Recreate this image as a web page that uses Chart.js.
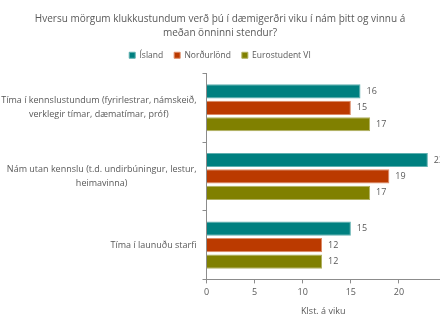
<!DOCTYPE html>
<html>
<head>
<meta charset="utf-8">
<script src="https://cdn.jsdelivr.net/npm/chart.js@4.4.1/dist/chart.umd.min.js"></script>
<style>
  html, body { margin: 0; padding: 0; background: #fff; }
  #wrap { width: 440px; height: 330px; }
</style>
</head>
<body>
<div id="wrap"><canvas id="chart"></canvas></div>
<script>
// Data
const categories = [
    ['Tíma í kennslustundum (fyrirlestrar, námskeið,', 'verklegir tímar, dæmatímar, próf)'],
    ['Nám utan kennslu (t.d. undirbúningur, lestur,', 'heimavinna)'],
    ['Tíma í launuðu starfi']
];
const seriesNames = ['Ísland', 'Norðurlönd', 'Eurostudent VI'];
const islandValues = [16, 23, 15];
const nordicValues = [15, 19, 12];
const eurostudentValues = [17, 17, 12];
const xTicks = [0, 5, 10, 15, 20];

const seriesColors = ['#008080', '#bb3a00', '#808000'];
const seriesBorders = ['#5fb0b0', '#dd8a66', '#b0b060'];
const textColor = '#595959';
const fontFamily = "'Open Sans', 'Noto Sans', sans-serif";

// Category labels: lines centred on each other, block right-aligned to the axis
const categoryLabels = {
    id: 'categoryLabels',
    afterDraw(chart) {
        const ctx = chart.ctx;
        const yScale = chart.scales.y;
        ctx.save();
        ctx.font = `9px ${fontFamily}`;
        ctx.fillStyle = textColor;
        ctx.textAlign = 'center';
        ctx.textBaseline = 'middle';
        const rightEdge = yScale.right - 10;
        categories.forEach((lines, i) => {
            const y = yScale.getPixelForValue(i);
            const maxW = Math.max(...lines.map(l => ctx.measureText(l).width));
            const cx = rightEdge - maxW / 2;
            const lineH = 14;
            const top = y - (lines.length - 1) * lineH / 2;
            lines.forEach((l, j) => ctx.fillText(l, cx, top + j * lineH));
        });
        ctx.restore();
    }
};

// Value labels at the end of each bar
const valueLabels = {
    id: 'valueLabels',
    afterDatasetsDraw(chart) {
        const ctx = chart.ctx;
        ctx.save();
        ctx.font = `9px ${fontFamily}`;
        ctx.fillStyle = textColor;
        ctx.textAlign = 'left';
        ctx.textBaseline = 'middle';
        chart.data.datasets.forEach((ds, di) => {
            chart.getDatasetMeta(di).data.forEach((bar, i) => {
                ctx.fillText(ds.data[i], bar.x + 6, bar.y);
            });
        });
        ctx.restore();
    }
};

// extra space under the legend row
const legendGap = {
    id: 'legendGap',
    beforeLayout(chart) {
        const lg = chart.legend;
        if (lg && !lg._gapWrapped) {
            const fit = lg.fit.bind(lg);
            lg.fit = function () { fit(); this.height += 4; };
            lg._gapWrapped = true;
        }
    }
};

new Chart(document.getElementById('chart'), {
    type: 'bar',
    data: {
        labels: categories.map(c => c.join(' ')),
        datasets: [islandValues, nordicValues, eurostudentValues].map((vals, i) => ({
            label: seriesNames[i],
            data: vals,
            backgroundColor: seriesColors[i],
            borderColor: seriesBorders[i],
            borderWidth: 1,
            categoryPercentage: 0.72,
            barPercentage: 0.86
        }))
    },
    options: {
        indexAxis: 'y',
        responsive: true,
        maintainAspectRatio: false,
        animation: false,
        layout: { padding: { top: 6, right: 0, bottom: 13, left: 0 } },
        plugins: {
            title: {
                display: true,
                text: ['Hversu mörgum klukkustundum verð þú í dæmigerðri viku í nám þitt og vinnu á',
                       'meðan önninni stendur?'],
                color: textColor,
                font: { family: fontFamily, size: 10, weight: 'normal', lineHeight: 1.4 },
                padding: { top: 6, bottom: 0 }
            },
            legend: {
                position: 'top',
                labels: {
                    color: textColor,
                    font: { family: fontFamily, size: 8.5 },
                    boxWidth: 6,
                    boxHeight: 6,
                    padding: 11
                }
            },
            tooltip: { enabled: false }
        },
        scales: {
            x: {
                min: 0,
                max: 24.26,
                afterBuildTicks(scale) {
                    scale.ticks = xTicks.map(v => ({ value: v }));
                },
                ticks: {
                    color: textColor,
                    font: { family: fontFamily, size: 9 },
                    padding: 4
                },
                grid: { drawOnChartArea: false, drawTicks: true, tickLength: 4, color: '#8c8c8c' },
                border: { display: true, color: '#8c8c8c' },
                title: {
                    display: true,
                    text: 'Klst. á viku',
                    color: textColor,
                    font: { family: fontFamily, size: 9 },
                    padding: { top: 4, bottom: 0 }
                }
            },
            y: {
                afterFit(scale) { scale.width = 206.5; },
                ticks: { display: false },
                grid: { drawOnChartArea: false, drawTicks: true, tickLength: 4, color: '#8c8c8c', offset: true },
                border: { display: true, color: '#8c8c8c' }
            }
        }
    },
    plugins: [legendGap, categoryLabels, valueLabels]
});
</script>
</body>
</html>
